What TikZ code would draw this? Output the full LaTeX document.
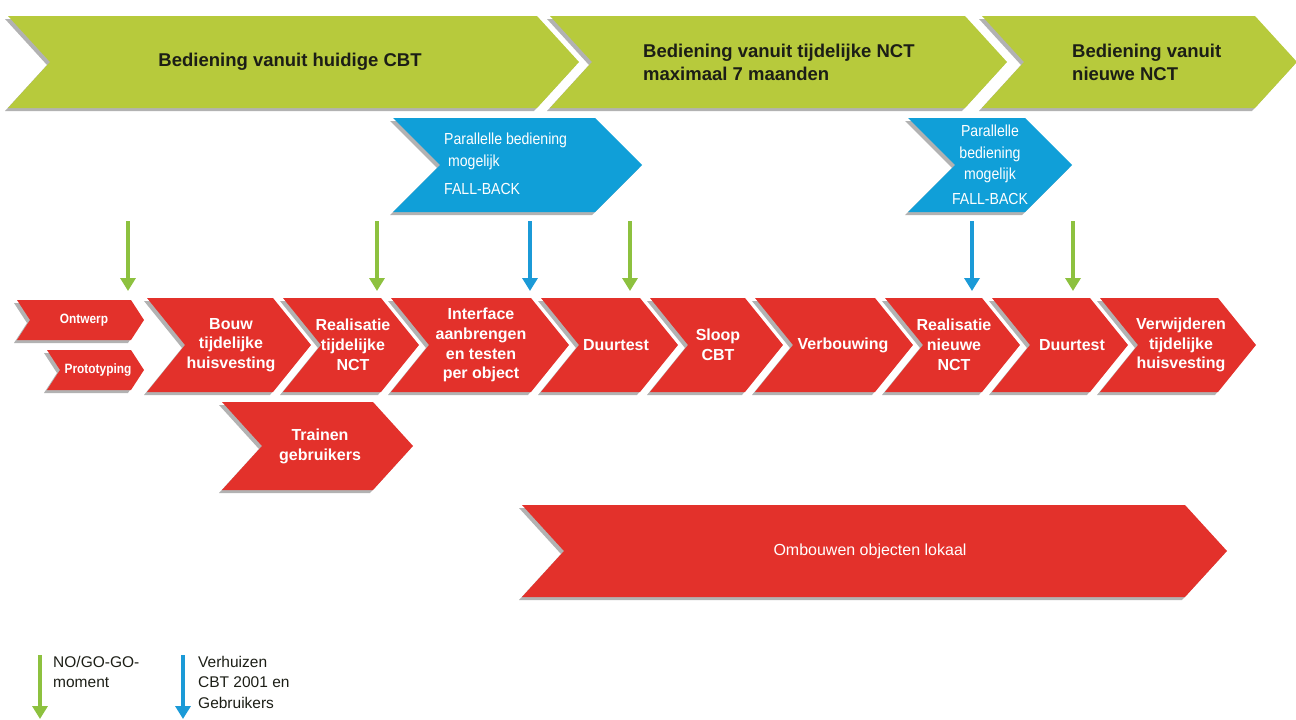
\documentclass[tikz,border=0pt]{standalone}
\usepackage{fontspec}
\setmainfont{Liberation Sans}
\newfontfamily\narrowfont[FakeStretch=0.88]{Liberation Sans}
\usetikzlibrary{arrows.meta, shadows, positioning}

\definecolor{bandgreen}{RGB}{183,202,60}
\definecolor{stepred}{RGB}{227,49,43}
\definecolor{fallblue}{RGB}{16,159,216}
\definecolor{gogreen}{RGB}{141,193,63}
\definecolor{moveblue}{RGB}{27,154,215}
\definecolor{darktext}{RGB}{28,30,22}

% chevron: style, left x, right x, top y, bottom y, point depth
\newcommand{\chev}[6]{%
  \path[#1] (#2,#4) -- (#3,#4) -- ({#3+#6},{(#4+#5)/2}) -- (#3,#5)
    -- (#2,#5) -- ({#2+#6},{(#4+#5)/2}) -- cycle;}

\tikzset{
  chevshadow/.style={drop shadow={shadow xshift=-3pt, shadow yshift=-3pt,
      fill=black, opacity=0.3}},
  greenchev/.style={fill=bandgreen, chevshadow},
  bluechev/.style={fill=fallblue, chevshadow},
  redchev/.style={fill=stepred, chevshadow},
  bandtext/.style={text=darktext, inner sep=0pt,
      font=\bfseries\fontsize{18.5}{23}\selectfont},
  bluetext/.style={text=white, inner sep=0pt,
      font=\narrowfont\fontsize{16}{21.5}\selectfont},
  redtext/.style={text=white, inner sep=0pt, align=center,
      font=\bfseries\fontsize{16}{19.8}\selectfont},
  smalltext/.style={text=white, inner sep=0pt,
      font=\narrowfont\bfseries\fontsize{13.5}{16}\selectfont},
  legtext/.style={text=darktext, inner sep=0pt, align=left,
      font=\fontsize{15.5}{20.5}\selectfont},
  goarrow/.style={draw=gogreen, line width=4pt,
      -{Triangle[width=15pt,length=13pt]}},
  movearrow/.style={draw=moveblue, line width=4pt,
      -{Triangle[width=15pt,length=13pt]}}
}

\begin{document}
\begin{tikzpicture}[x=1pt,y=-1pt]
\useasboundingbox (0,0) rectangle (1296,720);

% Top band
\chev{greenchev}{8}{537}{16}{108}{42}
\chev{greenchev}{550}{965}{16}{108}{42}
\chev{greenchev}{982}{1255}{16}{108}{42}
\node[bandtext] (band1) at (290,62) {Bediening vanuit huidige CBT};
\node[bandtext, anchor=west, align=left] (band2) at (643,62)
  {Bediening vanuit tijdelijke NCT\\maximaal 7 maanden};
\node[bandtext, anchor=west, align=left] (band3) at (1072,62)
  {Bediening vanuit\\nieuwe NCT};

% Fall-back blocks
\chev{bluechev}{393}{595}{118}{212}{47}
\chev{bluechev}{908}{1025}{118}{212}{47}
\node[bluetext, anchor=north west, align=left] (fall1) at (444,133)
  {Parallelle bediening\\\ mogelijk\\[7pt]FALL-BACK};
\node[bluetext, align=center] (fall2) at (990,165)
  {Parallelle\\bediening\\mogelijk\\[3pt]FALL-BACK};

% Moments
\foreach \x [count=\i] in {128,377,630,1073} {
  \coordinate (go\i) at (\x,221);
  \coordinate (go\i b) at (\x,291);
  \draw[goarrow] (go\i) -- (go\i b);
}
\foreach \x [count=\i] in {530,972} {
  \coordinate (move\i) at (\x,221);
  \coordinate (move\i b) at (\x,291);
  \draw[movearrow] (move\i) -- (move\i b);
}

% Main row of steps
\chev{redchev}{17}{131}{300}{340}{13}
\chev{redchev}{47}{131}{350}{390}{13}
\node[smalltext] (ontwerp) at (84,320) {Ontwerp};
\node[smalltext] (proto) at (98,370) {Prototyping};

\foreach \xl/\xr/\tx/\nm/\txt in {
    147/273/231/bouw/{Bouw\\tijdelijke\\huisvesting},
    283/381/353/realtijd/{Realisatie\\tijdelijke\\NCT},
    391/531/481/interface/{Interface\\aanbrengen\\en testen\\per object},
    541/640/616/duur1/{Duurtest},
    650/745/718/sloop/{Sloop\\CBT},
    755/875/843/verbouw/{Verbouwing},
    885/982/954/realnieuw/{Realisatie\\nieuwe\\NCT},
    992/1090/1072/duur2/{Duurtest},
    1100/1218/1181/verwijder/{Verwijderen\\tijdelijke\\huisvesting}} {
  \chev{redchev}{\xl}{\xr}{298}{392}{38}
  \node[redtext] (\nm) at (\tx,345) {\txt};
}

% Side steps
\chev{redchev}{222}{373}{402}{490}{40}
\node[redtext] (trainen) at (320,446) {Trainen\\gebruikers};
\chev{redchev}{522}{1185}{505}{597}{42}
\node[redtext, font=\fontsize{16}{19.8}\selectfont] (ombouw) at (870,551)
  {Ombouwen objecten lokaal};

% Legend
\coordinate (leggo) at (40,655);
\coordinate (leggo b) at (40,719);
\draw[goarrow] (leggo) -- (leggo b);
\node[legtext, anchor=north west] (leggotext) at (53,656) {NO/GO-GO-\\moment};
\coordinate (legmove) at (183,655);
\coordinate (legmove b) at (183,719);
\draw[movearrow] (legmove) -- (legmove b);
\node[legtext, anchor=north west] (legmovetext) at (198,656)
  {Verhuizen\\CBT 2001 en\\Gebruikers};

\end{tikzpicture}
\end{document}
